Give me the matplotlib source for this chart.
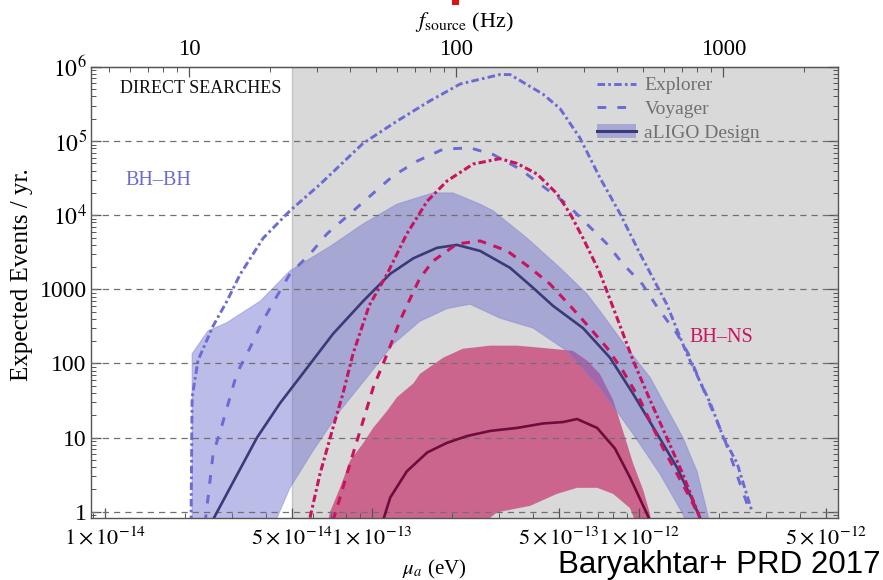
import numpy as np
import matplotlib
matplotlib.use("Agg")
import matplotlib.pyplot as plt
from matplotlib.lines import Line2D
from matplotlib.patches import Patch, Rectangle
from matplotlib.ticker import FixedLocator, NullFormatter, LogLocator

plt.rcParams['font.family'] = ['Liberation Serif', 'DejaVu Serif']
plt.rcParams['mathtext.fontset'] = 'stix'

# ---- BH-BH, Explorer / Voyager (mu in eV, events per year)
mu_bb_exp = [2.10e-14, 2.12e-14, 2.23e-14, 2.54e-14, 2.86e-14, 3.21e-14, 3.91e-14, 4.93e-14,
             6.38e-14, 9.25e-14, 1.24e-13, 1.65e-13, 2.14e-13, 3.01e-13, 3.29e-13, 4.37e-13,
             5.06e-13, 6.01e-13, 7.14e-13, 8.49e-13, 1.01e-12, 1.27e-12, 1.51e-12, 1.85e-12,
             2.07e-12, 2.33e-12, 2.65e-12]
n_bb_exp = [0.7, 35, 110, 320, 690, 1600, 4900, 11500,
            26000, 93000, 186000, 350000, 590000, 790000, 790000, 430000,
            275000, 110000, 32000, 10500, 3000, 630, 135, 29,
            10, 4.5, 1.0]

mu_bb_voy = [2.37e-14, 2.54e-14, 2.74e-14, 3.12e-14, 3.49e-14, 3.87e-14, 4.34e-14, 4.93e-14,
             5.86e-14, 6.78e-14, 8.28e-14, 9.84e-14, 1.20e-13, 1.48e-13, 1.85e-13, 2.33e-13,
             2.84e-13, 3.58e-13, 4.37e-13, 5.37e-13, 6.38e-13, 7.59e-13, 8.71e-13, 1.03e-12,
             1.18e-12, 1.39e-12, 1.53e-12, 1.85e-12, 2.10e-12, 2.60e-12]
n_bb_voy = [0.7, 6.0, 14.5, 74, 162, 355, 740, 1620,
            3000, 5600, 10500, 18200, 34000, 54000, 78000, 81000,
            66000, 42000, 24500, 14100, 7600, 4100, 2200, 1170,
            550, 250, 135, 27, 9.1, 1.0]

# ---- BH-BH, aLIGO design band and central curve
mu_bb_hi = [2.12e-14, 2.12e-14, 2.43e-14, 2.86e-14, 3.34e-14, 3.81e-14, 4.93e-14, 6.97e-14,
            9.25e-14, 1.24e-13, 1.69e-13, 2.01e-13, 2.54e-13, 2.84e-13, 3.81e-13, 5.06e-13,
            6.38e-13, 7.14e-13, 9.02e-13, 1.10e-12, 1.27e-12, 1.46e-12, 1.65e-12, 1.80e-12,
            1.87e-12]
n_bb_hi = [0.5, 135, 275, 355, 510, 690, 1780, 3800,
           7600, 14100, 20000, 20000, 14100, 11500, 4900, 1950,
           870, 510, 162, 65, 25, 10, 3.5, 1.0,
           0.5]
mu_bb_lo = [1.55e-12, 1.46e-12, 1.20e-12, 9.50e-13, 7.14e-13, 5.37e-13, 4.01e-13, 3.01e-13,
            2.33e-13, 1.91e-13, 1.51e-13, 1.20e-13, 9.57e-14, 7.59e-14, 6.01e-14, 4.93e-14,
            4.15e-14]
n_bb_lo = [0.5, 0.93, 3.2, 11.2, 47, 148, 300, 410,
           630, 550, 370, 182, 65, 23, 6.6, 2.1,
           0.5]

mu_bb_ligo = [2.47e-14, 2.94e-14, 3.71e-14, 4.52e-14, 5.71e-14, 7.14e-14, 9.25e-14, 1.17e-13,
              1.43e-13, 1.75e-13, 2.08e-13, 2.54e-13, 3.29e-13, 4.01e-13, 4.76e-13, 6.17e-13,
              7.78e-13, 9.50e-13, 1.17e-12, 1.39e-12, 1.59e-12, 1.69e-12]
n_bb_ligo = [0.65, 2.1, 10, 29, 87, 250, 690, 1620,
             2630, 3630, 3980, 3300, 1950, 1050, 600, 300,
             120, 39, 11.2, 3.9, 1.4, 0.83]

# ---- BH-NS, Explorer / Voyager
mu_bn_exp = [5.86e-14, 6.38e-14, 7.14e-14, 7.78e-14, 8.49e-14, 9.75e-14, 1.14e-13, 1.35e-13,
             1.61e-13, 1.91e-13, 2.39e-13, 3.01e-13, 3.49e-13, 4.15e-13, 4.93e-13, 5.52e-13,
             6.17e-13, 7.14e-13, 8.28e-13, 9.50e-13, 1.10e-12, 1.27e-12, 1.46e-12, 1.69e-12]
n_bn_exp = [0.83, 3.2, 13.5, 39, 135, 600, 1620, 5600,
            15500, 29000, 49000, 58000, 50000, 36000, 19500, 10500,
            4900, 1660, 410, 110, 32, 10, 3.2, 0.83]

mu_bn_voy = [7.14e-14, 7.59e-14, 8.28e-14, 9.02e-14, 1.01e-13, 1.14e-13, 1.27e-13, 1.35e-13,
             1.51e-13, 1.69e-13, 2.08e-13, 2.54e-13, 3.21e-13, 3.91e-13, 4.65e-13, 5.52e-13,
             6.55e-13, 7.59e-13, 8.71e-13, 1.01e-12, 1.13e-12, 1.23e-12, 1.39e-12, 1.55e-12,
             1.69e-12]
n_bn_voy = [0.76, 1.55, 4.5, 12.3, 47, 135, 370, 600,
            1410, 2400, 4100, 4500, 3300, 1950, 1170, 600,
            300, 162, 79, 32, 13.5, 7.2, 3.2, 1.55,
            0.83]

# ---- BH-NS, aLIGO design band and central curve
mu_bn_hi = [6.67e-14, 6.97e-14, 7.59e-14, 8.28e-14, 9.25e-14, 1.01e-13, 1.14e-13, 1.24e-13,
            1.43e-13, 1.51e-13, 1.85e-13, 2.19e-13, 2.77e-13, 3.49e-13, 4.37e-13, 5.66e-13,
            6.38e-13, 7.14e-13, 8.00e-13, 8.71e-13, 9.50e-13, 1.04e-12, 1.10e-12, 1.12e-12]
n_bn_hi = [0.5, 1.0, 2.1, 4.9, 8.3, 13.5, 23, 35,
           54, 72, 120, 158, 174, 174, 162, 148,
           110, 72, 32, 12.3, 4.5, 1.9, 0.93, 0.5]
mu_bn_lo = [1.01e-12, 9.25e-13, 8.00e-13, 6.97e-13, 5.86e-13, 4.93e-13, 3.91e-13, 2.94e-13,
            2.33e-13]
n_bn_lo = [0.5, 1.12, 1.74, 2.1, 2.1, 1.74, 1.2, 0.98,
           0.5]

mu_bn_ligo = [1.10e-13, 1.17e-13, 1.35e-13, 1.61e-13, 1.91e-13, 2.27e-13, 2.77e-13, 3.49e-13,
              4.37e-13, 5.19e-13, 5.86e-13, 6.97e-13, 8.13e-13, 9.25e-13, 1.10e-12]
n_bn_ligo = [0.76, 1.55, 3.5, 6.3, 8.5, 10.5, 12.3, 13.5,
             15.5, 16.2, 17.8, 13.5, 7.1, 2.9, 0.76]

# axis ticks
x_major = [1e-14, 5e-14, 1e-13, 5e-13, 1e-12, 5e-12]
x_major_labels = [r'$1\times10^{-14}$', r'$5\times10^{-14}$', r'$1\times10^{-13}$',
                  r'$5\times10^{-13}$', r'$1\times10^{-12}$', r'$5\times10^{-12}$']
y_major = [1, 10, 100, 1000, 1e4, 1e5, 1e6]
y_major_labels = ['1', '10', '100', '1000', r'$10^4$', r'$10^5$', r'$10^6$']
f_major = [10, 100, 1000]

h_ev = 4.135667e-15   # Planck constant, eV s

c_bb = '#6b6bd3'
c_bb_dark = '#3a3a76'
c_bn = '#c8145e'
c_bn_dark = '#6e0c3c'
dash_exp = (2.6, 1.1, 0.9, 1.1)
dash_voy = (3.0, 3.8)

fig = plt.figure(figsize=(8.83, 5.8), dpi=100)
ax = fig.add_axes([0.103, 0.1064, 0.846, 0.7781])
ax.set_xscale('log')
ax.set_yscale('log')
ax.set_xlim(8.86e-15, 5.56e-12)
ax.set_ylim(0.815, 1e6)

# region already excluded
ax.axvspan(5e-14, 1e-11, color='#d9d9d9', zorder=0, lw=0)
ax.axvline(5e-14, color='#c4c4c4', lw=1.0, zorder=0.5)

ax.fill(mu_bn_hi + mu_bn_lo, n_bn_hi + n_bn_lo, color='#c2185b', alpha=0.6, lw=0, zorder=1)
ax.fill(mu_bb_hi + mu_bb_lo, n_bb_hi + n_bb_lo, facecolor='#6c6cd0', alpha=0.45,
        edgecolor='#7e7ed8', lw=0.8, zorder=2)

for yv in y_major[:-1]:
    ax.axhline(yv, color='#707070', lw=0.9, ls=(0, (5, 4)), zorder=3)

ax.plot(mu_bb_exp, n_bb_exp, color=c_bb, lw=2.1, dashes=dash_exp, zorder=4)
ax.plot(mu_bb_voy, n_bb_voy, color=c_bb, lw=2.1, dashes=dash_voy, zorder=4)
ax.plot(mu_bb_ligo, n_bb_ligo, color=c_bb_dark, lw=1.9, zorder=4)
ax.plot(mu_bn_exp, n_bn_exp, color=c_bn, lw=2.2, dashes=(2.4, 1.0, 0.9, 1.0), zorder=4)
ax.plot(mu_bn_voy, n_bn_voy, color=c_bn, lw=2.2, dashes=(2.8, 2.6), zorder=4)
ax.plot(mu_bn_ligo, n_bn_ligo, color=c_bn_dark, lw=1.9, zorder=4)

# ticks
ax.xaxis.set_major_locator(FixedLocator(x_major))
ax.set_xticklabels(x_major_labels)
ax.xaxis.set_minor_locator(LogLocator(base=10, subs=(2, 3, 4, 6, 7, 8, 9)))
ax.xaxis.set_minor_formatter(NullFormatter())
ax.yaxis.set_major_locator(FixedLocator(y_major))
ax.set_yticklabels(y_major_labels)
ax.yaxis.set_minor_locator(LogLocator(base=10, subs=np.arange(2, 10)))
ax.yaxis.set_minor_formatter(NullFormatter())
ax.tick_params(which='both', direction='in', top=False, right=True, color='#555555')
ax.tick_params(which='major', length=7, width=0.9)
ax.tick_params(which='minor', length=3.5, width=0.7)
ax.tick_params(axis='x', labelsize=16, pad=6)
ax.tick_params(axis='y', labelsize=17, pad=3)
for s in ax.spines.values():
    s.set_color('#555555')
    s.set_linewidth(1.0)

top = ax.secondary_xaxis('top', functions=(lambda m: 2 * m / h_ev, lambda f: f * h_ev / 2))
top.set_xscale('log')
top.xaxis.set_major_locator(FixedLocator(f_major))
top.set_xticklabels(['10', '100', '1000'])
top.xaxis.set_minor_locator(LogLocator(base=10, subs=np.arange(2, 10)))
top.xaxis.set_minor_formatter(NullFormatter())
top.tick_params(which='both', direction='in', color='#555555')
top.tick_params(which='major', length=7, width=0.9, labelsize=16.5, pad=5)
top.tick_params(which='minor', length=3.5, width=0.7)
top.spines['top'].set_color('#555555')
top.set_xlabel(r'$f_{\mathrm{source}}$ (Hz)', fontsize=16, labelpad=9)

ax.set_xlabel(r'$\mu_a$ (eV)', fontsize=15)
ax.xaxis.set_label_coords(0.46, -0.088)
ax.set_ylabel('Expected Events / yr.', fontsize=18)
ax.yaxis.set_label_coords(-0.077, 0.54)

ax.text(1.14e-14, 5.2e5, 'DIRECT SEARCHES', fontsize=13, color='#111111', va='center', zorder=5)
ax.text(1.19e-14, 2.9e4, 'BH\u2013BH', fontsize=14.5, color=c_bb, va='center', zorder=5)
ax.text(1.55e-12, 221, 'BH\u2013NS', fontsize=14.5, color=c_bn, va='center', zorder=5)

handles = [Line2D([], [], color=c_bb, lw=2.1, dashes=dash_exp),
           Line2D([], [], color=c_bb, lw=2.1, dashes=dash_voy),
           (Patch(facecolor='#6c6cd0', alpha=0.45, lw=0), Line2D([], [], color=c_bb_dark, lw=2.2))]
leg = ax.legend(handles, ['Explorer', 'Voyager', 'aLIGO Design'], loc='upper left',
                bbox_to_anchor=(0.664, 1.0), frameon=False, fontsize=14,
                handlelength=2.0, labelspacing=0.32, borderpad=0.0, handletextpad=0.45)
for t in leg.get_texts():
    t.set_color('#707070')

fig.text(0.997, 0.025, 'Baryakhtar+ PRD 2017', fontsize=22.5, ha='right', va='center',
         family=['Liberation Sans', 'DejaVu Sans'])
fig.patches.append(Rectangle((0.512, 0.992), 0.008, 0.008, transform=fig.transFigure,
                             color='#e01010', lw=0))

fig.savefig('out.png', dpi=100)
